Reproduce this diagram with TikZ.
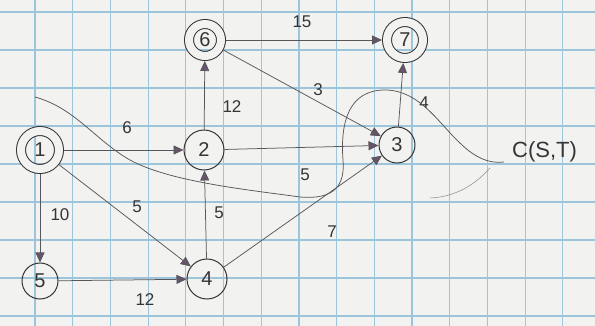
\documentclass[tikz,border=0pt]{standalone}
\usepackage{fontspec}
\setmainfont{Liberation Sans}
\usetikzlibrary{arrows.meta}
\definecolor{paper}{HTML}{F2F3F0}
\definecolor{gridc}{HTML}{9CC4DA}
\definecolor{pen}{HTML}{363436}
\definecolor{edgec}{HTML}{58565A}
\definecolor{tipc}{HTML}{65546A}
\begin{document}
\begin{tikzpicture}[x=1pt,y=-1pt,
  vtx/.style={draw=pen,line width=1pt,circle,minimum size=38pt,inner sep=0pt,font=\fontsize{20}{20}\selectfont,text=pen},
  dvtx/.style={vtx,double=paper,double distance=8pt,outer sep=5pt},
  edge/.style={draw=edgec,line width=0.75pt,-{Triangle[length=10pt,width=9pt,fill=tipc]}},
  wlab/.style={font=\fontsize{17}{17}\selectfont,text=pen},
  cut/.style={draw=edgec,line width=0.75pt}]
\fill[paper] (0,0) rectangle (595,326);
\useasboundingbox (0,0) rectangle (595,326);
\foreach \k in {-1,...,15} {\draw[gridc,line width=1.2pt] ({35+37.7*\k},0) -- ({35+37.7*\k},326);}
\foreach \k in {0,...,8} {\draw[gridc,line width=1.2pt] (0,{12+38*\k}) -- (595,{12+38*\k});}
% nodes
\node[dvtx,minimum size=38pt] (n1) at (40,150) {1};
\node[vtx,minimum size=40pt] (n2) at (204,150) {2};
\node[dvtx,minimum size=32pt] (n6) at (205,40) {6};
\node[dvtx,minimum size=36pt] (n7) at (405,40) {7};
\node[vtx,minimum size=36pt] (n3) at (397,145) {3};
\node[vtx,minimum size=36pt] (n5) at (40,281) {5};
\node[vtx,minimum size=40pt] (n4) at (207,279) {4};
% edges
\draw[edge] (n1) -- (n2);
\draw[edge] (n1) -- (n5);
\draw[edge] (n1) -- (n4);
\draw[edge] (n5) -- (n4);
\draw[edge] (n4) -- (n2);
\draw[edge] (n2) -- (n6);
\draw[edge] (n6) -- (n7);
\draw[edge] (n6) -- (n3);
\draw[edge] (n2) -- (n3);
\draw[edge] (n4) -- (n3);
\draw[edge] (n3) -- (n7);
% weights
\node[wlab] (w12) at (127,128) {6};
\node[wlab] (w15) at (60,215) {10};
\node[wlab] (w14) at (137,207) {5};
\node[wlab] (w54) at (145,300) {12};
\node[wlab] (w42) at (219,213) {5};
\node[wlab] (w26) at (232,107) {12};
\node[wlab] (w67) at (302,22) {15};
\node[wlab] (w63) at (318,90) {3};
\node[wlab] (w23) at (305,175) {5};
\node[wlab] (w43) at (332,232) {7};
\node[wlab] (w37) at (424,103) {4};
% cut
\node[wlab,anchor=west,inner sep=0pt,font=\fontsize{22}{22}\selectfont] (cl) at (512,152) {C(S,T)};
\coordinate (c0) at (35,97);
\draw[cut] (c0) .. controls (75,108) and (95,140) .. (130,160)
  .. controls (170,182) and (250,190) .. (300,197)
  .. controls (335,200) and (345,185) .. (343,160)
  .. controls (340,120) and (350,90) .. (385,90)
  .. controls (420,90) and (440,125) .. (460,143)
  .. controls (475,158) and (490,164) .. ([xshift=-8pt,yshift=-10pt]cl.west);
\draw[cut,line width=0.5pt,edgec!70] (490,168) .. controls (475,185) and (455,197) .. (430,198);
\end{tikzpicture}
\end{document}
